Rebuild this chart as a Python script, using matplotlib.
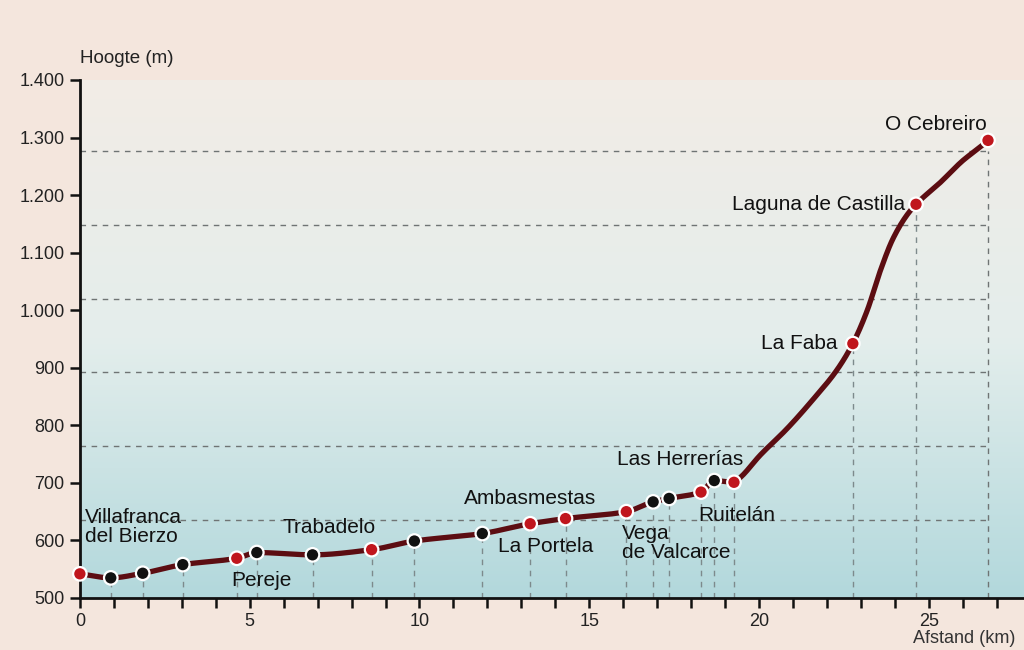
import numpy as np
import matplotlib
matplotlib.use("Agg")
import matplotlib.pyplot as plt
from matplotlib.colors import LinearSegmentedColormap
from matplotlib.ticker import FuncFormatter, MultipleLocator

plt.rcParams['font.family'] = ['Liberation Sans', 'DejaVu Sans']

# dorpen / punten op de route (km, hoogte in m), rood = True voor rode stip
km = [0.0, 0.91, 1.85, 3.03, 4.62, 5.21, 6.85, 8.59, 9.85, 11.85, 13.26,
      14.3, 16.09, 16.88, 17.35, 18.29, 18.68, 19.26, 22.76, 24.62, 26.74]
hoogte = [542, 535, 543, 558, 569, 579, 575, 584, 599, 612, 629,
          638, 650, 667, 673, 684, 704, 701, 942, 1184, 1295]
rood = [True, False, False, False, True, False, False, True, False, False, True,
        True, True, False, False, True, False, True, True, True, True]

# extra punten op de lijn zelf (zonder stip)
lijn_km = [19.44, 20.03, 20.82, 21.59, 22.29, 23.18, 23.56, 23.94, 24.35,
           25.32, 26.0, 26.5]
lijn_hoogte = [709, 748, 794, 845, 896, 999, 1067, 1124, 1165,
               1221, 1260, 1283]

# plaatsnamen: tekst, km, hoogte, uitlijning
namen = ["Villafranca\ndel Bierzo", "Pereje", "Trabadelo", "Ambasmestas",
         "La Portela", "Vega\nde Valcarce", "Las Herrerías", "Ruitelán",
         "La Faba", "Laguna de Castilla", "O Cebreiro"]
namen_km = [0.15, 5.35, 7.35, 13.26, 13.7, 15.97, 17.68, 19.35, 22.3, 24.3, 25.2]
namen_hoogte = [623, 531, 622, 672, 590, 595, 740, 643, 942, 1184, 1322]
namen_ha = ["left", "center", "center", "center", "center", "left",
            "center", "center", "right", "right", "center"]

rasterlijnen = [635, 764, 892, 1020, 1148, 1276]


def pchip(x, y, xs):
    x = np.asarray(x, float)
    y = np.asarray(y, float)
    h = np.diff(x)
    d = np.diff(y) / h
    m = np.zeros_like(y)
    for k in range(1, len(x) - 1):
        if d[k - 1] * d[k] > 0:
            w1 = 2 * h[k] + h[k - 1]
            w2 = h[k] + 2 * h[k - 1]
            m[k] = (w1 + w2) / (w1 / d[k - 1] + w2 / d[k])
    m[0] = d[0]
    m[-1] = d[-1]
    i = np.clip(np.searchsorted(x, xs) - 1, 0, len(h) - 1)
    t = (xs - x[i]) / h[i]
    h00 = 2 * t**3 - 3 * t**2 + 1
    h10 = t**3 - 2 * t**2 + t
    h01 = -2 * t**3 + 3 * t**2
    h11 = t**3 - t**2
    return h00 * y[i] + h10 * h[i] * m[i] + h01 * y[i + 1] + h11 * h[i] * m[i + 1]


fig = plt.figure(figsize=(10.24, 6.5), dpi=100, facecolor="#f4e6dd")
ax = fig.add_axes([0.078, 0.08, 0.922, 0.797])
ax.set_facecolor("none")

xmax = 27.8
ax.set_xlim(0, xmax)
ax.set_ylim(500, 1400)

# achtergrond: verloop van blauw (onder) naar wit (boven)
cmap = LinearSegmentedColormap.from_list("bg", ["#f2ece6", "#e4eeec", "#b2d8dc"])
grad = np.linspace(1, 0, 256).reshape(-1, 1)
ax.imshow(grad, extent=[0, xmax, 500, 1400], aspect="auto", cmap=cmap,
          zorder=0, origin="lower")

# horizontale stippellijnen tot aan O Cebreiro
for g in rasterlijnen:
    ax.plot([0, km[-1]], [g, g], ls=(0, (4, 4)), color="#6f7474", lw=1, zorder=1)
ax.plot([km[-1], km[-1]], [500, rasterlijnen[-1]], ls=(0, (4, 4)),
        color="#6f7474", lw=1, zorder=1)

# verticale stippellijnen onder de punten
for x, y in zip(km[1:-1], hoogte[1:-1]):
    ax.plot([x, x], [500, y], ls=(0, (4, 4)), color="#7d8a8c", lw=1, zorder=1)

# profiel
alle_km = np.array(km + lijn_km)
alle_h = np.array(hoogte + lijn_hoogte)
order = np.argsort(alle_km)
xs = np.linspace(0, km[-1], 800)
ax.plot(xs, pchip(alle_km[order], alle_h[order], xs), color="#5c0d12",
        lw=3.8, solid_capstyle="round", zorder=3)

kleuren = ["#c0161d" if r else "#111111" for r in rood]
ax.scatter(km, hoogte, s=95, c=kleuren, edgecolors="white", linewidths=1.6,
           zorder=4, clip_on=False)

for t, x, y, ha in zip(namen, namen_km, namen_hoogte, namen_ha):
    ax.text(x, y, t, ha=ha, va="center", fontsize=15, color="#111111",
            linespacing=1.0, zorder=5)

# assen
for s in ["top", "right"]:
    ax.spines[s].set_visible(False)
ax.spines["left"].set_linewidth(2)
ax.spines["bottom"].set_linewidth(2)
ax.spines["left"].set_color("#111111")
ax.spines["bottom"].set_color("#111111")

ax.xaxis.set_major_locator(MultipleLocator(5))
ax.xaxis.set_minor_locator(MultipleLocator(1))
ax.yaxis.set_major_locator(MultipleLocator(100))
ax.yaxis.set_major_formatter(FuncFormatter(lambda v, p: f"{int(v):,}".replace(",", ".")))
ax.tick_params(axis="both", which="both", direction="out", width=1.8,
               color="#111111", labelsize=13, labelcolor="#222222")
ax.tick_params(axis="x", which="both", length=7, pad=4)
ax.tick_params(axis="y", length=7, pad=4)

ax.text(0.0, 1.025, "Hoogte (m)", transform=ax.transAxes, ha="left", va="bottom",
        fontsize=13.5, color="#222222")
fig.text(0.992, 0.018, "Afstand (km)", ha="right", va="center", fontsize=13,
         color="#333333")

fig.savefig("out.png", dpi=100, facecolor=fig.get_facecolor())
